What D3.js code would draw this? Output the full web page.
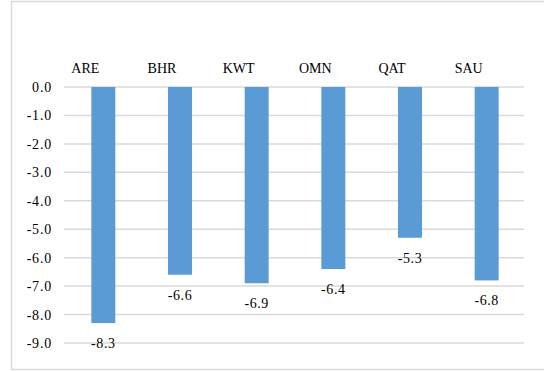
<!DOCTYPE html>
<html>
<head>
<meta charset="utf-8">
<script src="https://cdn.jsdelivr.net/npm/d3@7"></script>
<style>
  html, body { margin: 0; padding: 0; background: #fff; }
  svg { display: block; }
</style>
</head>
<body>
<svg id="chart" width="544" height="371"></svg>
<script>
// Country codes and their values
const categories = ["ARE", "BHR", "KWT", "OMN", "QAT", "SAU"];
const values = [-8.3, -6.6, -6.9, -6.4, -5.3, -6.8];
const yTicks = [0, -1, -2, -3, -4, -5, -6, -7, -8, -9];

const svg = d3.select("#chart");
const serif = "'Liberation Serif', 'Times New Roman', serif";
const plotLeft = 64, plotRight = 524;

// One decimal, plain hyphen for the sign
const fmt = v => d3.format(".1f")(v).replace("\u2212", "-");

// Outer chart frame
svg.append("rect")
  .attr("x", 11.5).attr("y", 1.5)
  .attr("width", 560).attr("height", 368)
  .attr("fill", "#fff")
  .attr("stroke", "#d9d9d9").attr("stroke-width", 1.5);

const x = d3.scaleBand()
  .domain(categories)
  .range([plotLeft, plotRight])
  .paddingInner(0).paddingOuter(0);

const y = d3.scaleLinear()
  .domain([0, -9])
  .range([87, 343]);

// Horizontal gridlines
svg.append("g")
  .selectAll("line")
  .data(yTicks)
  .join("line")
  .attr("x1", plotLeft).attr("x2", plotRight)
  .attr("y1", d => y(d)).attr("y2", d => y(d))
  .attr("stroke", "#d9d9d9").attr("stroke-width", 1.5);

// Y axis labels
const yAxis = d3.axisLeft(y)
  .tickValues(yTicks)
  .tickFormat(fmt)
  .tickSize(0)
  .tickPadding(12);
const yg = svg.append("g")
  .attr("transform", `translate(${plotLeft},0)`)
  .call(yAxis);
yg.select(".domain").remove();
yg.selectAll("text")
  .attr("font-family", serif)
  .attr("font-size", 14)
  .attr("letter-spacing", 0.8)
  .attr("fill", "#000");

// Bars
const barW = 24;
svg.append("g")
  .selectAll("rect")
  .data(categories)
  .join("rect")
  .attr("x", d => x(d) + x.bandwidth() / 2 - barW / 2 + 1)
  .attr("y", y(0))
  .attr("width", barW)
  .attr("height", (d, i) => y(values[i]) - y(0))
  .attr("fill", "#5b9bd5");

// Category labels along the top
svg.append("g")
  .selectAll("text")
  .data(categories)
  .join("text")
  .attr("x", d => x(d) + x.bandwidth() / 2 - 17)
  .attr("y", 72.5)
  .attr("text-anchor", "middle")
  .attr("font-family", serif)
  .attr("font-size", 14)
  .attr("fill", "#000")
  .text(d => d);

// Value labels below each bar
svg.append("g")
  .selectAll("text")
  .data(categories)
  .join("text")
  .attr("x", d => x(d) + x.bandwidth() / 2 + 1)
  .attr("y", (d, i) => y(values[i]) + 25)
  .attr("text-anchor", "middle")
  .attr("font-family", serif)
  .attr("font-size", 14)
  .attr("letter-spacing", 0.6)
  .attr("fill", "#000")
  .text((d, i) => fmt(values[i]));
</script>
</body>
</html>
